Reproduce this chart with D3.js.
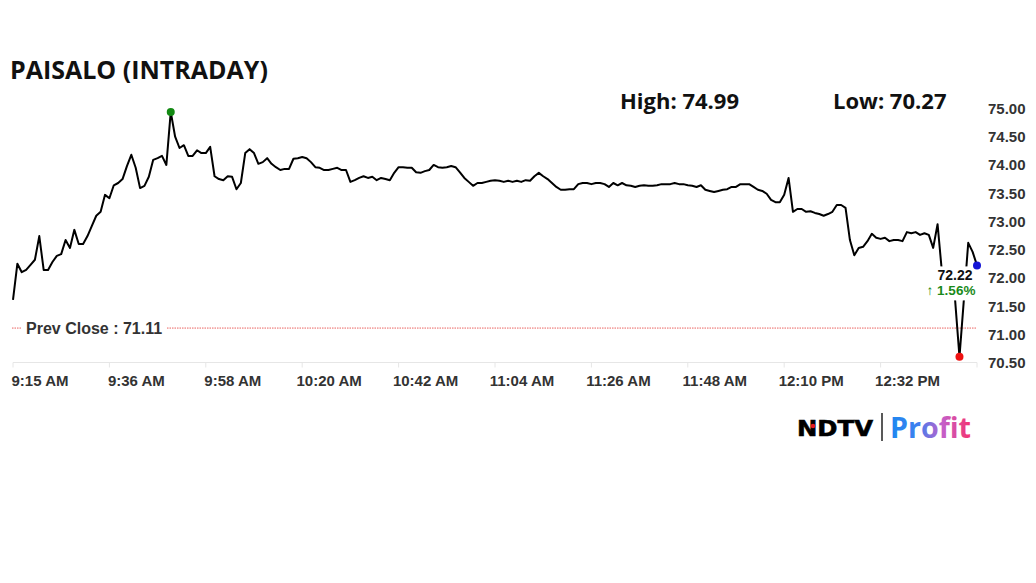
<!DOCTYPE html>
<html><head><meta charset="utf-8">
<script src="https://cdn.jsdelivr.net/npm/d3@7"></script>
<style>html,body{margin:0;padding:0;background:#fff;} svg{display:block}</style>
</head><body>
<svg id="chart" width="1036" height="583"></svg>
<script>
const title = "PAISALO (INTRADAY)";
const highLabel = "High: 74.99";
const lowLabel = "Low: 70.27";
const prevClose = 71.11;
const changeLabel = "\u2191 1.56%";
const tickIdx = [0,22,44,66,88,110,132,154,176,198,220];
const tickLabels = ["9:15 AM","9:36 AM","9:58 AM","10:20 AM","10:42 AM","11:04 AM","11:26 AM","11:48 AM","12:10 PM","12:32 PM"];
const yTicks = [70.5,71,71.5,72,72.5,73,73.5,74,74.5,75];
// one price per minute from 9:15
const prices = [
71.61,72.25,72.10,72.14,72.23,72.32,72.74,72.14,72.14,72.28,
72.39,72.42,72.67,72.53,72.85,72.60,72.60,72.74,72.92,73.10,
73.17,73.47,73.41,73.64,73.68,73.75,73.98,74.18,73.95,73.59,
73.63,73.79,74.09,74.12,74.16,74.00,74.94,74.50,74.30,74.35,
74.16,74.16,74.26,74.21,74.21,74.32,73.80,73.75,73.73,73.80,
73.79,73.57,73.68,74.21,74.28,74.21,74.02,74.05,74.12,74.02,
73.96,73.91,73.93,73.93,74.11,74.12,74.14,74.12,74.05,73.96,
73.95,73.91,73.91,73.93,73.95,73.91,73.91,73.70,73.73,73.77,
73.80,73.77,73.79,73.73,73.77,73.75,73.73,73.86,73.96,73.96,
73.95,73.95,73.87,73.86,73.89,73.91,74.00,73.96,73.95,73.96,
73.98,73.96,73.87,73.77,73.70,73.63,73.68,73.68,73.70,73.72,
73.73,73.72,73.70,73.72,73.70,73.72,73.70,73.73,73.72,73.80,
73.86,73.80,73.75,73.68,73.61,73.56,73.56,73.57,73.57,73.66,
73.68,73.68,73.66,73.68,73.68,73.66,73.61,73.68,73.64,73.68,
73.64,73.63,73.61,73.63,73.64,73.63,73.63,73.64,73.66,73.66,
73.66,73.68,73.66,73.66,73.64,73.63,73.61,73.64,73.56,73.54,
73.52,73.54,73.56,73.57,73.61,73.61,73.66,73.66,73.66,73.61,
73.56,73.54,73.49,73.38,73.34,73.34,73.47,73.77,73.17,73.22,
73.22,73.17,73.18,73.15,73.13,73.10,73.13,73.17,73.29,73.29,
73.24,72.67,72.40,72.53,72.55,72.65,72.78,72.71,72.69,72.71,
72.65,72.67,72.67,72.65,72.81,72.79,72.81,72.76,72.79,72.76,
72.53,72.95,72.10,71.87,71.75,71.61,70.60,71.61,72.62,72.46,
72.22
];

const svg = d3.select("#chart");
const x = d3.scaleLinear().domain([0, 220]).range([13, 977]);
const y = d3.scaleLinear().domain([70.5, 75]).range([362.5, 108.5]);
const sans = "'Liberation Sans', Arial, sans-serif";

// title + high/low
svg.append("text").attr("x", 10).attr("y", 79).text(title)
  .attr("font-family", "'Open Sans', sans-serif").attr("font-weight", 700)
  .attr("font-size", 25).attr("fill", "#111");
svg.append("text").attr("x", 620).attr("y", 109).text(highLabel)
  .attr("font-family", "'Open Sans', sans-serif").attr("font-weight", 700)
  .attr("font-size", 22).attr("fill", "#111");
svg.append("text").attr("x", 833).attr("y", 109).text(lowLabel)
  .attr("font-family", "'Open Sans', sans-serif").attr("font-weight", 700)
  .attr("font-size", 22).attr("fill", "#111");

// x axis
const xAxis = svg.append("g");
xAxis.append("line").attr("x1", x(0)).attr("x2", x(220))
  .attr("y1", y(70.5)).attr("y2", y(70.5)).attr("stroke", "#e6e6e6");
xAxis.selectAll("line.tick").data(tickIdx).join("line").attr("class", "tick")
  .attr("x1", d => x(d)).attr("x2", d => x(d))
  .attr("y1", y(70.5)).attr("y2", y(70.5) + 5).attr("stroke", "#e6e6e6");
xAxis.selectAll("text").data(tickLabels).join("text")
  .attr("x", (d, i) => x(tickIdx[i]) + 27).attr("y", 386)
  .attr("text-anchor", "middle").text(d => d)
  .attr("font-family", sans).attr("font-weight", "bold")
  .attr("font-size", 15).attr("fill", "#333");

// y axis labels (right)
svg.append("g").selectAll("text").data(yTicks).join("text")
  .attr("x", 988).attr("y", d => y(d) + 5.5).text(d => d.toFixed(2))
  .attr("font-family", sans).attr("font-weight", "bold")
  .attr("font-size", 15).attr("fill", "#333");

// prev close
svg.append("line").attr("x1", 12).attr("x2", 977)
  .attr("y1", y(prevClose)).attr("y2", y(prevClose))
  .attr("stroke", "#e53935").attr("stroke-width", 0.8).attr("stroke-dasharray", "1.5,1");
const pcG = svg.append("g");
const pcT = pcG.append("text").attr("x", 26).attr("y", y(prevClose) + 6)
  .text("Prev Close : " + prevClose.toFixed(2))
  .attr("font-family", sans).attr("font-weight", "bold")
  .attr("font-size", 16).attr("fill", "#333");
const pb = pcT.node().getBBox();
pcG.insert("rect", "text").attr("x", pb.x - 4).attr("y", pb.y).attr("width", pb.width + 8)
  .attr("height", pb.height).attr("fill", "#fff");

// price line
const line = d3.line().x((d, i) => x(i)).y(d => y(d));
svg.append("path").datum(prices).attr("d", line)
  .attr("fill", "none").attr("stroke", "#000").attr("stroke-width", 2)
  .attr("stroke-linejoin", "round");

// last value label box
const li = prices.length - 1;
const last = prices[li];
const lbG = svg.append("g");
const t1 = lbG.append("text").attr("x", x(li) - 22).attr("y", y(last) + 15)
  .attr("text-anchor", "middle").text(last.toFixed(2))
  .attr("font-family", sans).attr("font-weight", "bold")
  .attr("font-size", 14).attr("fill", "#111");
const t2 = lbG.append("text").attr("x", x(li) - 26).attr("y", y(last) + 30)
  .attr("text-anchor", "middle").text(changeLabel)
  .attr("font-family", sans).attr("font-weight", "bold")
  .attr("font-size", 13.5).attr("fill", "#1a8a1a");
const b1 = t1.node().getBBox(), b2 = t2.node().getBBox();
const bx0 = Math.min(b1.x, b2.x) - 2, bx1 = Math.max(b1.x + b1.width, b2.x + b2.width) + 2;
const by0 = b1.y - 1, by1 = b2.y + b2.height + 2;
lbG.insert("rect", "text").attr("x", bx0).attr("y", by0)
  .attr("width", bx1 - bx0).attr("height", by1 - by0).attr("fill", "#fff");

// markers
const hi = d3.maxIndex(prices), lo = d3.minIndex(prices);
svg.append("circle").attr("cx", x(hi)).attr("cy", y(prices[hi])).attr("r", 4).attr("fill", "#138a13");
svg.append("circle").attr("cx", x(lo)).attr("cy", y(prices[lo])).attr("r", 4).attr("fill", "#ee1111");
svg.append("circle").attr("cx", x(li)).attr("cy", y(last)).attr("r", 4).attr("fill", "#1515d6");

// logo
const defs = svg.append("defs");
const gr = defs.append("linearGradient").attr("id", "pg").attr("x1", "0%").attr("x2", "100%");
gr.append("stop").attr("offset", "0%").attr("stop-color", "#1e88f0");
gr.append("stop").attr("offset", "35%").attr("stop-color", "#3f7fef");
gr.append("stop").attr("offset", "65%").attr("stop-color", "#c45fc9");
gr.append("stop").attr("offset", "100%").attr("stop-color", "#f5336e");
svg.append("text").attr("x", 797).attr("y", 436).text("NDTV")
  .attr("font-family", "'DejaVu Sans', sans-serif").attr("font-weight", "bold")
  .attr("font-size", 22).attr("textLength", 76).attr("lengthAdjust", "spacingAndGlyphs")
  .attr("fill", "#000").attr("stroke", "#000").attr("stroke-width", 0.6);
svg.append("circle").attr("cx", 813).attr("cy", 426).attr("r", 2.3).attr("fill", "#e31b23");
svg.append("line").attr("x1", 882).attr("x2", 882).attr("y1", 413).attr("y2", 441)
  .attr("stroke", "#222").attr("stroke-width", 1.5);
svg.append("text").attr("x", 890).attr("y", 438).text("Profit")
  .attr("font-family", "'Open Sans', sans-serif").attr("font-weight", "bold")
  .attr("font-size", 29).attr("textLength", 81).attr("lengthAdjust", "spacingAndGlyphs")
  .attr("fill", "url(#pg)");
</script>
</body></html>
